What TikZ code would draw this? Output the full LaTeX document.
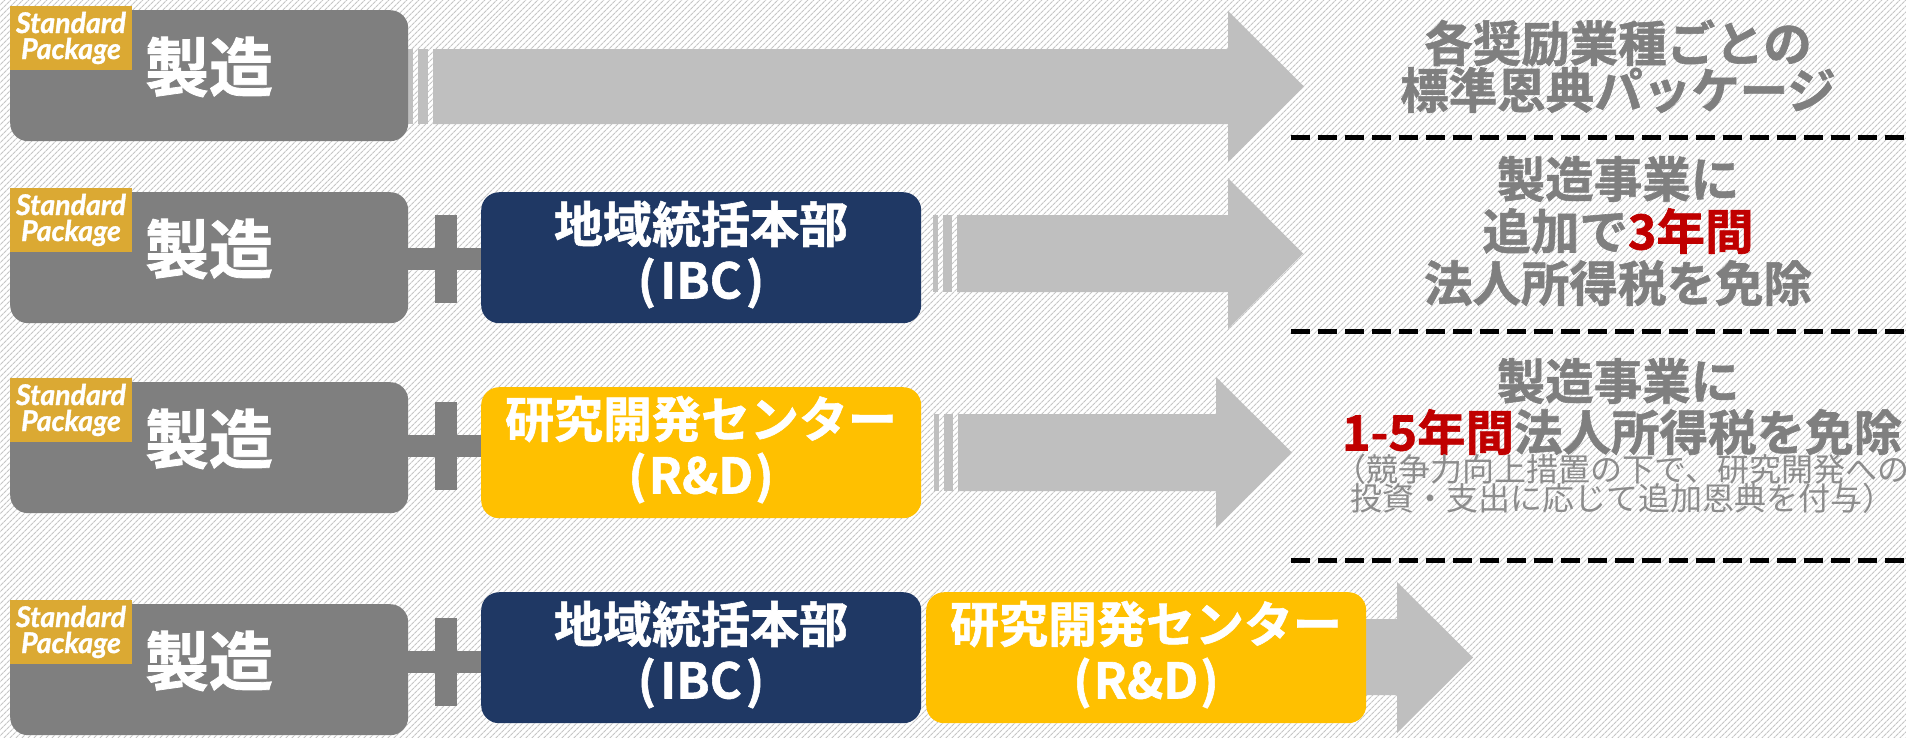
\documentclass[tikz,border=0pt]{standalone}
\usepackage{fontspec}
\newfontfamily\jp{Noto Sans CJK JP}[BoldFont={Noto Sans CJK JP Bold}, BoldFeatures={FakeBold=1.2}]
\newfontfamily\lato{Lato}[BoldItalicFeatures={FakeBold=1.2}]
\usetikzlibrary{patterns.meta}
\definecolor{boxgrey}{RGB}{127,127,127}
\definecolor{navyblue}{RGB}{31,56,100}
\definecolor{amber}{RGB}{255,192,0}
\definecolor{arrowgrey}{RGB}{191,191,191}
\definecolor{stdgold}{RGB}{219,169,51}
\definecolor{redt}{RGB}{192,0,0}
\definecolor{hatch}{RGB}{198,198,198}
\definecolor{smallgrey}{RGB}{140,140,140}
\begin{document}
\begin{tikzpicture}[x=1pt,y=-1pt,
 box/.style={rounded corners=18pt, inner sep=0, minimum height=131pt, anchor=north west},
 gbox/.style={box, fill=boxgrey, minimum width=398pt},
 nbox/.style={box, fill=navyblue, minimum width=440pt},
 ybox/.style={box, fill=amber, minimum width=440pt},
 tag/.style={fill=stdgold, inner sep=0, minimum width=122pt, minimum height=64pt, anchor=north west},
 tagtxt/.style={text=white, font=\lato\bfseries\itshape\fontsize{28.5}{28.5}\selectfont, anchor=base, inner sep=0},
 big/.style={text=white, font=\jp\bfseries\fontsize{64}{64}\selectfont, inner sep=0},
 wtxt/.style={text=white, font=\jp\bfseries\fontsize{49}{49}\selectfont, inner sep=0},
 rtxt/.style={text=boxgrey, font=\jp\bfseries\fontsize{48.5}{48.5}\selectfont, inner sep=0},
 stxt/.style={text=smallgrey, font=\jp\fontsize{32}{32}\selectfont, inner sep=0},
 plusfill/.style={fill=boxgrey},
 arr/.style={fill=arrowgrey},
 sepline/.style={line width=5pt, dash pattern=on 19pt off 8pt, black}
]
\useasboundingbox (0,0) rectangle (1906,737);
\fill[white] (0,0) rectangle (1906,737);
\fill[pattern={Lines[angle=45,distance=4pt,line width=1.2pt]}, pattern color=hatch] (0,0) rectangle (1906,737);

% ---------- arrows ----------
% row 1
\fill[arr] (408,49) rectangle (413,124);
\fill[arr] (418,49) rectangle (428,124);
\fill[arr] (433,49) -- (1228,49) -- (1228,11) -- (1304,86.5) -- (1228,162) -- (1228,124) -- (433,124) -- cycle;
% row 2
\fill[arr] (933,215) rectangle (938,292);
\fill[arr] (943,215) rectangle (952,292);
\fill[arr] (957,215) -- (1228,215) -- (1228,178) -- (1303,253.5) -- (1228,329) -- (1228,292) -- (957,292) -- cycle;
% row 3
\fill[arr] (934,414) rectangle (939,491);
\fill[arr] (944,414) rectangle (953,491);
\fill[arr] (958,414) -- (1216,414) -- (1216,377) -- (1292,452.5) -- (1216,528) -- (1216,491) -- (958,491) -- cycle;
% row 4
\fill[arr] (1340,619) -- (1397,619) -- (1397,582) -- (1473,657.5) -- (1397,733) -- (1397,695) -- (1340,695) -- cycle;

% ---------- plus signs ----------
\fill[plusfill] (408,248) rectangle (490,270);
\fill[plusfill] (435,215) rectangle (457,303);
\fill[plusfill] (408,435) rectangle (490,457);
\fill[plusfill] (435,402) rectangle (457,490);
\fill[plusfill] (408,651) rectangle (490,673);
\fill[plusfill] (435,618) rectangle (457,706);

% ---------- boxes ----------
\node[gbox] (g1) at (10,10) {};
\node[gbox] (g2) at (10,192) {};
\node[gbox] (g3) at (10,382) {};
\node[gbox] (g4) at (10,604) {};
\node[nbox] (n2) at (481,192) {};
\node[ybox] (y3) at (481,387) {};
\node[nbox] (n4) at (481,592) {};
\node[ybox] (y4) at (926,592) {};

% ---------- tags ----------
\foreach \t/\yy in {1/6,2/188,3/378,4/600}{
  \node[tag] (tag\t) at (10,\yy) {};
  \node[tagtxt] (tagA\t) at (71,\yy+27) {Standard};
  \node[tagtxt] (tagB\t) at (71,\yy+53) {Package};
}

% ---------- box texts ----------
\node[big] (m1) at (209,67) {製造};
\node[big] (m2) at (209,249) {製造};
\node[big] (m3) at (209,439) {製造};
\node[big] (m4) at (209,661) {製造};

\node[wtxt] (n2a) at (701,224) {地域統括本部};
\node[wtxt] (n2b) at (701,283) {(\kern4pt IBC\kern4pt)};
\node[wtxt] (y3a) at (701,419) {研究開発センター};
\node[wtxt] (y3b) at (701,478) {(\kern2pt R\&D\kern2pt)};
\node[wtxt] (n4a) at (701,624) {地域統括本部};
\node[wtxt] (n4b) at (701,683) {(\kern4pt IBC\kern4pt)};
\node[wtxt] (y4a) at (1146,624) {研究開発センター};
\node[wtxt] (y4b) at (1146,683) {(\kern2pt R\&D\kern2pt)};

% ---------- right texts ----------
\node[rtxt] (r1a) at (1618,43) {各奨励業種ごとの};
\node[rtxt] (r1b) at (1618,90) {標準恩典パッケージ};
\node[rtxt] (r2a) at (1618,179) {製造事業に};
\node[rtxt] (r2b) at (1618,231) {追加で\textcolor{redt}{3年間}};
\node[rtxt] (r2c) at (1618,283) {法人所得税を免除};
\node[rtxt] (r3a) at (1618,381) {製造事業に};
\node[rtxt] (r3b) at (1622,432) {\textcolor{redt}{1-5年間}法人所得税を免除};
\node[stxt] (r3c) at (1622,469) {（競争力向上措置の下で、研究開発への};
\node[stxt] (r3d) at (1622,498) {投資・支出に応じて追加恩典を付与）};

% ---------- separators ----------
\coordinate (s1a) at (1291,137); \coordinate (s1b) at (1906,137);
\coordinate (s2a) at (1291,331); \coordinate (s2b) at (1906,331);
\coordinate (s3a) at (1291,560); \coordinate (s3b) at (1906,560);
\draw[sepline] (s1a) -- (s1b);
\draw[sepline] (s2a) -- (s2b);
\draw[sepline] (s3a) -- (s3b);
\end{tikzpicture}
\end{document}
